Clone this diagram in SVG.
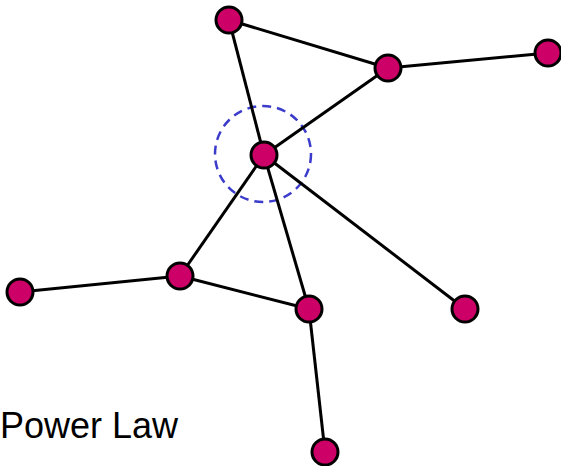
<svg xmlns="http://www.w3.org/2000/svg" width="561" height="466" viewBox="0 0 561 466">
<style>
.n{fill:#cc0066;stroke:#000;stroke-width:3}
.e{stroke:#000;stroke-width:3;fill:none}
.t{font-family:"Liberation Sans",Arial,sans-serif;font-size:36px;fill:#000}
</style>
<rect width="561" height="466" fill="#fff"/>
<circle cx="263" cy="154" r="48" fill="none" stroke="#3c3ccc" stroke-width="2.5" stroke-dasharray="9,6"/>
<g id="edges">
<line class="e" x1="229" y1="20" x2="388" y2="68"/>
<line class="e" x1="229" y1="20" x2="264" y2="155"/>
<line class="e" x1="388" y1="68" x2="548" y2="53"/>
<line class="e" x1="388" y1="68" x2="264" y2="155"/>
<line class="e" x1="264" y1="155" x2="180" y2="276"/>
<line class="e" x1="264" y1="155" x2="309" y2="309"/>
<line class="e" x1="264" y1="155" x2="465" y2="309"/>
<line class="e" x1="180" y1="276" x2="20" y2="292"/>
<line class="e" x1="180" y1="276" x2="309" y2="309"/>
<line class="e" x1="309" y1="309" x2="325" y2="452"/>
</g>
<g id="nA"><circle class="n" cx="229" cy="20" r="13"/></g>
<g id="nB"><circle class="n" cx="388" cy="68" r="13"/></g>
<g id="nC"><circle class="n" cx="548" cy="53" r="13"/></g>
<g id="nD"><circle class="n" cx="264" cy="155" r="13"/></g>
<g id="nE"><circle class="n" cx="180" cy="276" r="13"/></g>
<g id="nF"><circle class="n" cx="20" cy="292" r="13"/></g>
<g id="nG"><circle class="n" cx="309" cy="309" r="13"/></g>
<g id="nH"><circle class="n" cx="465" cy="309" r="13"/></g>
<g id="nI"><circle class="n" cx="325" cy="452" r="13"/></g>
<text class="t" x="0" y="438">Power Law</text>
</svg>
